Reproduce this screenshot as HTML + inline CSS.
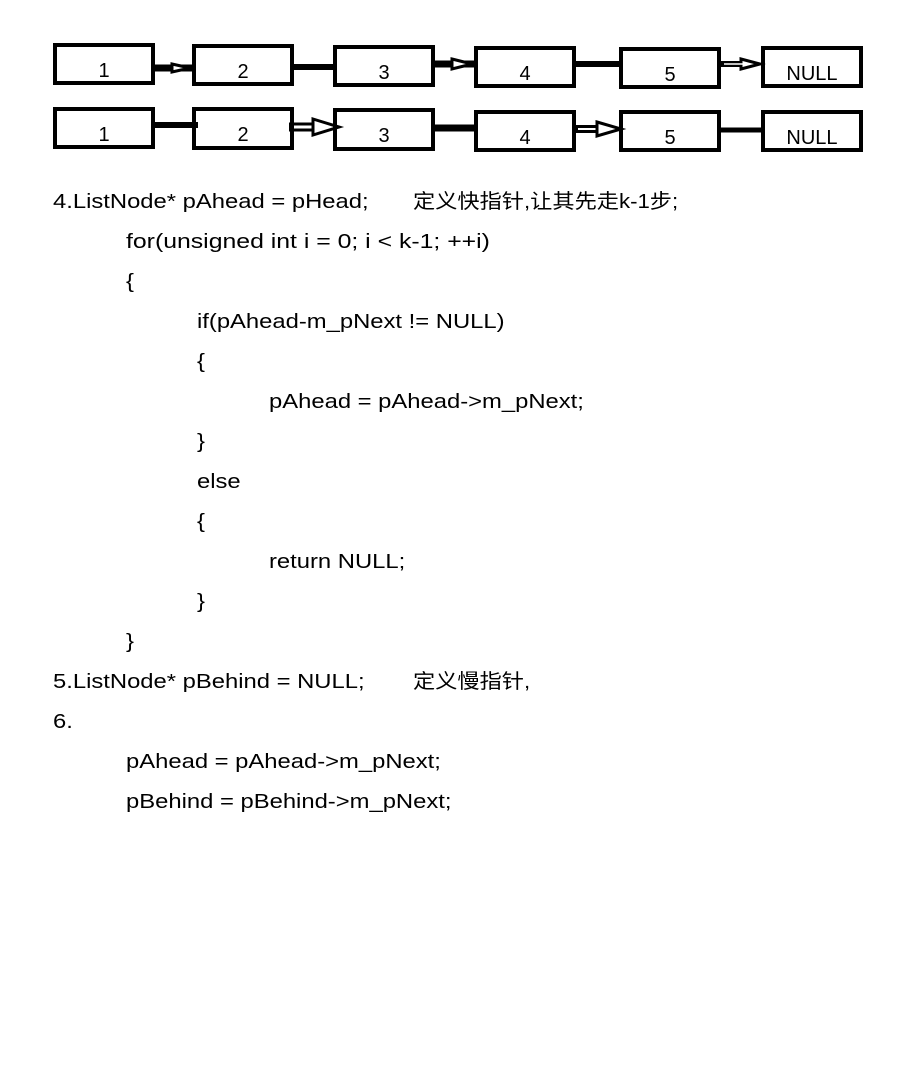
<!DOCTYPE html>
<html><head><meta charset="utf-8"><style>
body{margin:0;width:917px;height:1090px;background:#fff;position:relative;overflow:hidden;font-family:"Liberation Sans","Noto Sans CJK SC",sans-serif;color:#000}
.box{position:absolute;border:4px solid #000;box-sizing:border-box;width:102px;height:42px;font-size:20px;text-align:center;line-height:48px}
.ln{position:absolute;font-size:20px;white-space:pre;line-height:24px;transform:scaleX(1.19);transform-origin:0 0}
.cn{transform:scaleX(1.11)}
svg{position:absolute;left:0;top:0}
</style></head><body>
<svg width="917" height="200">
<g stroke="#000" stroke-width="5" fill="#fff">
<line x1="155" y1="68" x2="192" y2="68" stroke-width="7"/><path d="M172 64 L190 68 L172 72Z" stroke-width="3"/>
<line x1="293" y1="67" x2="333" y2="67" stroke-width="6"/>
<line x1="435" y1="64" x2="474" y2="64" stroke-width="7"/><path d="M452 59 L472 64 L452 69Z" stroke-width="3"/>
<line x1="576" y1="64" x2="619" y2="64" stroke-width="6"/>
<line x1="721" y1="64" x2="742" y2="64" stroke-width="6"/><path d="M741 59 L760 64 L741 69Z" stroke-width="3"/><line x1="724" y1="64" x2="744" y2="64" stroke="#fff" stroke-width="1.5"/>
<line x1="155" y1="125" x2="198" y2="125" stroke-width="6"/>
<line x1="289" y1="127" x2="315" y2="127" stroke-width="9"/><line x1="292" y1="127" x2="315" y2="127" stroke="#fff" stroke-width="3"/><path d="M313 119 L339 127 L313 135Z" stroke-width="3"/>
<line x1="432" y1="128" x2="474" y2="128" stroke-width="7"/>
<line x1="576" y1="129" x2="598" y2="129" stroke-width="8"/><line x1="578" y1="129" x2="598" y2="129" stroke="#fff" stroke-width="2"/><path d="M597 122 L621 129 L597 136Z" stroke-width="3"/>
<line x1="721" y1="130" x2="761" y2="130" stroke-width="5"/>
</g></svg>
<div class="box" style="left:53px;top:43px">1</div>
<div class="box" style="left:192px;top:44px">2</div>
<div class="box" style="left:333px;top:45px">3</div>
<div class="box" style="left:474px;top:46px">4</div>
<div class="box" style="left:619px;top:47px">5</div>
<div class="box" style="left:761px;top:46px">NULL</div>
<div class="box" style="left:53px;top:107px">1</div>
<div class="box" style="left:192px;top:107px;height:43px">2</div>
<div class="box" style="left:333px;top:108px;height:43px">3</div>
<div class="box" style="left:474px;top:110px">4</div>
<div class="box" style="left:619px;top:110px">5</div>
<div class="box" style="left:761px;top:110px">NULL</div>
<div class="ln" style="left:53px;top:190px">4.ListNode* pAhead = pHead;</div>
<div class="ln cn" style="left:413px;top:190px">定义快指针,让其先走k-1步;</div>
<div class="ln" style="left:126px;top:230px;transform:scaleX(1.24)">for(unsigned int i = 0; i &lt; k-1; ++i)</div>
<div class="ln" style="left:126px;top:270px">{</div>
<div class="ln" style="left:197px;top:310px">if(pAhead-m_pNext != NULL)</div>
<div class="ln" style="left:197px;top:350px">{</div>
<div class="ln" style="left:269px;top:390px">pAhead = pAhead-&gt;m_pNext;</div>
<div class="ln" style="left:197px;top:430px">}</div>
<div class="ln" style="left:197px;top:470px">else</div>
<div class="ln" style="left:197px;top:510px">{</div>
<div class="ln" style="left:269px;top:550px">return NULL;</div>
<div class="ln" style="left:197px;top:590px">}</div>
<div class="ln" style="left:126px;top:630px">}</div>
<div class="ln" style="left:53px;top:670px">5.ListNode* pBehind = NULL;</div>
<div class="ln cn" style="left:413px;top:670px">定义慢指针,</div>
<div class="ln" style="left:53px;top:710px">6.</div>
<div class="ln" style="left:126px;top:750px">pAhead = pAhead-&gt;m_pNext;</div>
<div class="ln" style="left:126px;top:790px">pBehind = pBehind-&gt;m_pNext;</div>
</body></html>
